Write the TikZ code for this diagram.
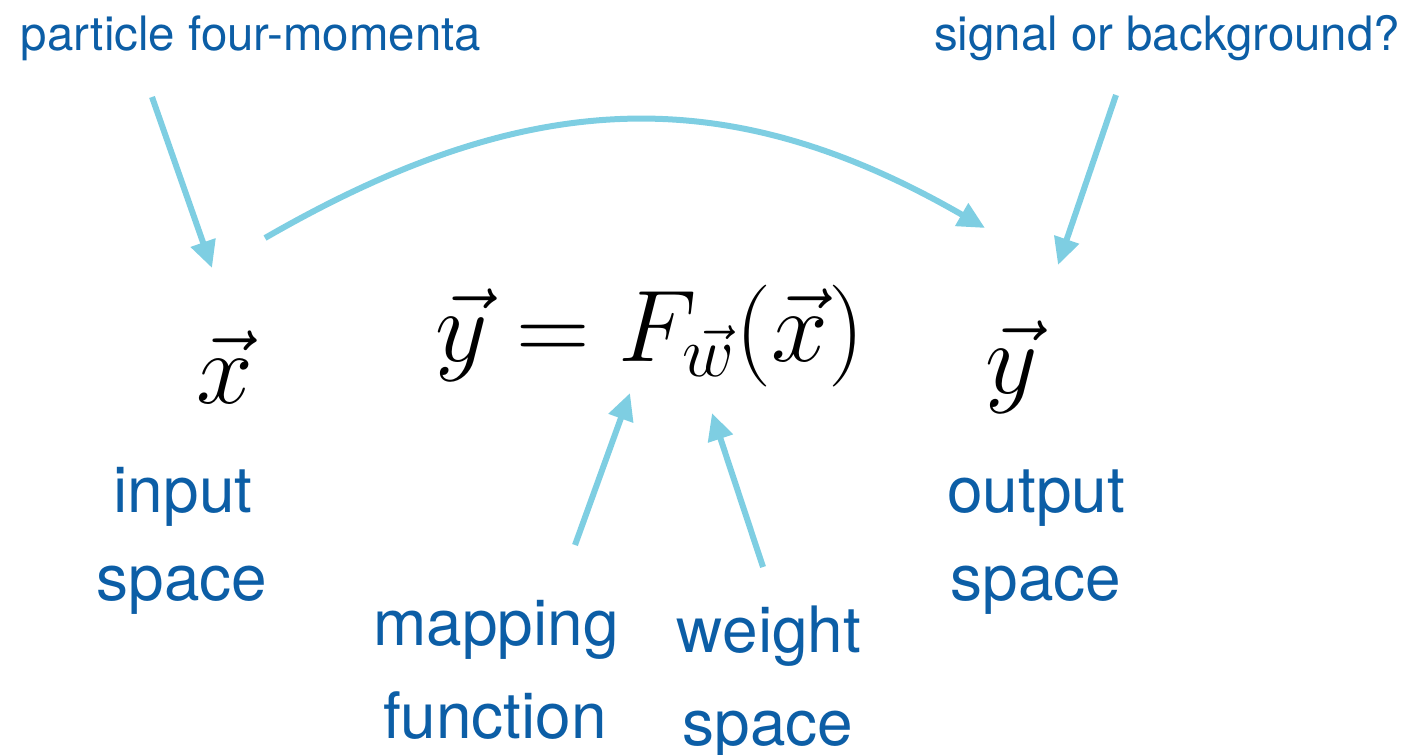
\documentclass[tikz,border=0pt]{standalone}
\usepackage{fix-cm}
\usepackage[no-math]{fontspec}
\setmainfont{TeX Gyre Heros}
\usepackage{tikz}
\usetikzlibrary{arrows.meta}
\definecolor{lbltext}{RGB}{12,94,166}
\definecolor{lblarrow}{RGB}{126,206,226}
\tikzset{
  toplbl/.style={font=\fontsize{27}{32}\selectfont, text=lbltext, inner sep=0pt, anchor=base},
  biglbl/.style={font=\fontsize{36.4}{44}\selectfont, text=lbltext, inner sep=0pt, anchor=base},
  eqn/.style={font=\fontsize{58}{66}\selectfont, inner sep=0pt, anchor=base},
  pointer/.style={lblarrow, line width=0.12cm, -{Triangle[length=0.54cm,width=0.5cm]}}
}

\begin{document}
\begin{tikzpicture}[x=0.02cm, y=-0.02cm]
  \useasboundingbox (0,0) rectangle (1409,754);
  % top labels
  \node[toplbl] (momenta) at (251,50) {particle four-momenta};
  \node[toplbl] (sigbkg) at (1167,50) {signal or background?};
  % vectors and mapping
  \node[eqn] (xvec) at (225,403) {$\vec{x}$};
  \node[eqn] (mapeq) at (650,361) {$\vec{y} = F_{\vec{w}}(\vec{x})$};
  \node[eqn] (yvec) at (1012,393) {$\vec{y}$};
  % lower labels
  \node[biglbl] (inp) at (183,512) {input};
  \node[biglbl] (inpsp) at (182,600) {space};
  \node[biglbl] (outp) at (1036,512) {output};
  \node[biglbl] (outsp) at (1036,600) {space};
  \node[biglbl] (mapp) at (496,645) {mapping};
  \node[biglbl] (func) at (495,738) {function};
  \node[biglbl] (wgt) at (769,652) {weight};
  \node[biglbl] (wgtsp) at (768,745) {space};
  % arrow ends
  \coordinate (momfrom) at (152,97);
  \coordinate (momto) at (212,268);
  \coordinate (sigfrom) at (1116,95);
  \coordinate (sigto) at (1058,265);
  \coordinate (arcfrom) at (265,238);
  \coordinate (arcto) at (985,228);
  \coordinate (mapfrom) at (575,545);
  \coordinate (mapto) at (630,393);
  \coordinate (wgtfrom) at (763,567);
  \coordinate (wgtto) at (712,413);
  % arrows
  \draw[pointer] (momfrom) -- (momto);
  \draw[pointer] (sigfrom) -- (sigto);
  \draw[pointer] (arcfrom) .. controls (525,88) and (725,78) .. (arcto);
  \draw[pointer] (mapfrom) -- (mapto);
  \draw[pointer] (wgtfrom) -- (wgtto);
\end{tikzpicture}
\end{document}
